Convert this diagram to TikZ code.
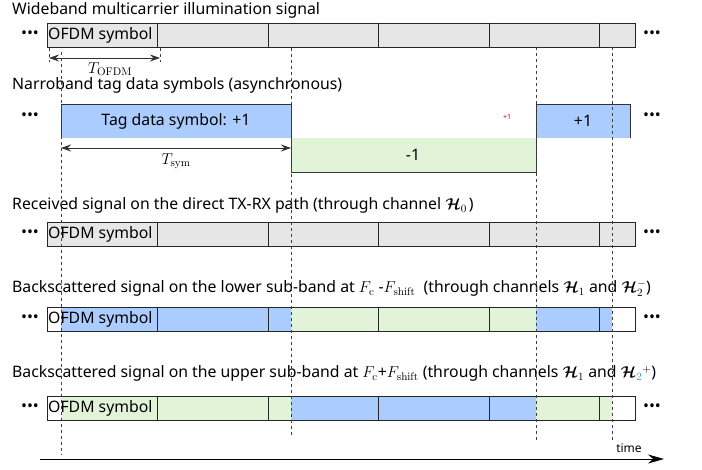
\RequirePackage{fix-cm}
\documentclass[tikz,border=0pt]{standalone}
\usepackage{amsmath}
\usepackage[no-math]{fontspec}
\setmainfont{Noto Sans}
\usetikzlibrary{arrows.meta}
\definecolor{symgray}{HTML}{E6E6E6}
\definecolor{symblue}{HTML}{AACCFF}
\definecolor{symgreen}{HTML}{E2F4D8}
\definecolor{chanblue}{HTML}{4A90E2}
\newcommand{\chH}{\boldsymbol{\mathcal{H}}}

\begin{document}
\begin{tikzpicture}[x=1pt, y=-1pt, font=\fontsize{15.8}{18}\selectfont,
		title/.style={anchor=base west, inner sep=0pt},
		dots/.style={inner sep=0pt},
		bar/.style={draw=black!85, line width=0.8pt},
		symlabel/.style={anchor=west, inner sep=1pt},
		tagline/.style={draw=black!80, line width=0.9pt},
		guide/.style={draw=black!75, line width=0.8pt, dash pattern=on 3pt off 3pt},
		span/.style={draw=black!80, line width=0.9pt, {Stealth[length=10pt,width=7pt]}-{Stealth[length=10pt,width=7pt]}},
		timeaxis/.style={draw=black, line width=0.9pt, -{Stealth[length=16pt,width=9pt]}}]
	\useasboundingbox (0,0) rectangle (702,470);
	% titles of the rows
	\node[title] (widetitle) at (12,15) {Wideband multicarrier illumination signal};
	\node[title] (tagtitle) at (12,90) {Narroband tag data symbols (asynchronous)};
	\node[title] (directtitle) at (12,210) {Received signal on the direct TX-RX path (through channel $\chH_0$\kern2pt)};
	\node[title] (lowertitle) at (12,293) {Backscattered signal on the lower sub-band at $F_\mathrm{c}$ -$F_\mathrm{shift}$\ \ (through channels $\chH_1$ and $\chH_2^{-}$)};
	\node[title] (uppertitle) at (12,378) {Backscattered signal on the upper sub-band at $F_\mathrm{c}$+$F_\mathrm{shift}$ (through channels $\chH_1$ and $\chH_{\color{chanblue}2}^{+}$)};
	% OFDM symbol bars
	\foreach \top/\fa/\fb/\fc/\fd/\fe [count=\i] in {23/symgray/symgray/symgray/symgray/symgray,
			222/symgray/symgray/symgray/symgray/symgray,
			307/white/symblue/symgreen/symblue/white,
			396/white/symgreen/symblue/symgreen/white} {
		\fill[\fa] (47,\top) rectangle (61,\top+24);
		\fill[\fb] (61,\top) rectangle (291,\top+24);
		\fill[\fc] (291,\top) rectangle (536,\top+24);
		\fill[\fd] (536,\top) rectangle (612,\top+24);
		\fill[\fe] (612,\top) rectangle (635,\top+24);
		\foreach \x in {157.5,268,378.5,489,599.5}
			\draw[bar] (\x,\top) -- (\x,\top+24);
		\draw[bar] (47,\top) rectangle (635,\top+24);
		\node[symlabel] (ofdm\i) at (47,\top+12) {OFDM symbol};
		\node[dots] (ldots\i) at (30,\top+12) {•••};
		\node[dots] (rdots\i) at (652,\top+12) {•••};
	}
	% tag data symbols
	\fill[symblue] (61,104) rectangle (291,138);
	\fill[symgreen] (291,138) rectangle (536,172);
	\fill[symblue] (536,104) rectangle (630,138);
	\draw[tagline] (61,138) -- (61,104) -- (291,104) -- (291,172) -- (536,172) -- (536,104) -- (630,104) -- (630,138);
	\node (tagplus) at (176,121) {Tag data symbol: +1};
	\node (tagminus) at (413,155) {-1};
	\node (tagplusb) at (583,121) {+1};
	\node[text=red!70!black, font=\fontsize{7}{8}\selectfont] (tagmark) at (507,117) {+1};
	\node[dots] (ldotstag) at (30,117) {•••};
	\node[dots] (rdotstag) at (652,117) {•••};
	% durations
	\coordinate (ofdmS) at (49,58);
	\coordinate (ofdmE) at (160,58);
	\coordinate (symS) at (61,148);
	\coordinate (symE) at (291,148);
	\path[span] (ofdmS) -- (ofdmE);
	\path[span] (symS) -- (symE);
	\node (tofdm) at (110,69) {$T_\mathrm{OFDM}$};
	\node (tsym) at (176,161) {$T_\mathrm{sym}$};
	\foreach \x [count=\k] in {49,160} {
		\coordinate (tick\k top) at (\x,48);
		\coordinate (tick\k bot) at (\x,62);
		\path[guide] (tick\k top) -- (tick\k bot);
	}
	% symbol boundaries of the tag
	\foreach \x/\a/\b [count=\g] in {61/52/455, 291/48/437, 536/47/440, 612/47/440} {
		\coordinate (g\g top) at (\x,\a);
		\coordinate (g\g bot) at (\x,\b);
		\path[guide] (g\g top) -- (g\g bot);
	}
	% time axis
	\coordinate (tstart) at (40,459);
	\coordinate (tend) at (664,459);
	\path[timeaxis] (tstart) -- (tend);
	\node[font=\fontsize{12}{14}\selectfont] (timelbl) at (629,448) {time};
\end{tikzpicture}
\end{document}
